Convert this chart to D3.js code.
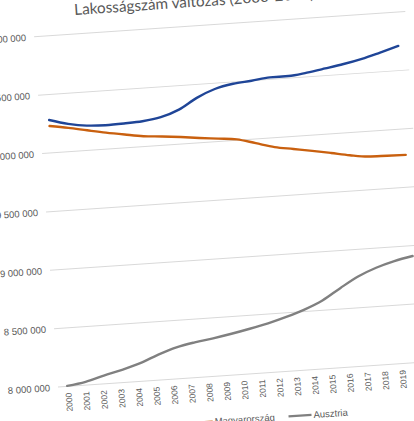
<!DOCTYPE html>
<html>
<head>
<meta charset="utf-8">
<script src="https://cdn.jsdelivr.net/npm/d3@7"></script>
<style>
html,body{margin:0;padding:0;background:#fff;overflow:hidden;}
svg{display:block;}
</style>
</head>
<body>
<svg id="chart" width="414" height="421"></svg>
<script>
const title = "Lakosságszám változás (2000-2019)";
const years = ["2000","2001","2002","2003","2004","2005","2006","2007","2008","2009",
               "2010","2011","2012","2013","2014","2015","2016","2017","2018","2019"];
const seriesNames = ["Csehország", "Magyarország", "Ausztria"];
const czech   = [10282000,10238000,10212000,10205000,10209000,10217000,10241000,10295000,10385000,10450000,
                 10484000,10499000,10517000,10518000,10536000,10561000,10588000,10622000,10665000,10710000];
const hungary = [10230000,10204000,10172000,10141000,10114000,10089000,10076000,10060000,10041000,10025000,
                 10008000,9964000,9920000,9893000,9866000,9837000,9807000,9785000,9781000,9777000];
const austria = [8004000,8028000,8071000,8109000,8155000,8218000,8269000,8301000,8325000,8353000,
                 8385000,8421000,8465000,8517000,8584000,8679000,8768000,8832000,8878000,8911000];
const yTicks = [8000000,8500000,9000000,9500000,10000000,10500000,11000000];
const colors = ["#1f4597", "#c9600f", "#808080"];

const svg = d3.select("#chart");
const g = svg.append("g").attr("transform", "rotate(-3.9,58,387)");

const plotLeft = 58, plotRight = 430, plotBottom = 387, plotTop = 36;
const x = d3.scalePoint().domain(years).range([67.3, 420.7]);
const xLabel = d3.scalePoint().domain(years).range([67.6, 402.4]);
const y = d3.scaleLinear().domain([8000000, 11000000]).range([plotBottom, plotTop]);
const fmt = d3.formatLocale({decimal: ",", thousands: " ", grouping: [3], currency: ["", ""]}).format(",");

// gridlines
g.append("g").selectAll("line").data(yTicks).join("line")
  .attr("x1", plotLeft).attr("x2", plotRight)
  .attr("y1", d => y(d)).attr("y2", d => y(d))
  .attr("stroke", "#d9d9d9").attr("stroke-width", 1);

// y axis labels
const yAxis = g.append("g").attr("transform", `translate(${plotLeft},0)`)
  .call(d3.axisLeft(y).tickValues(yTicks).tickFormat(fmt).tickSize(0).tickPadding(8));
yAxis.select(".domain").remove();
yAxis.selectAll("text").attr("fill", "#595959")
  .style("font-family", "'Liberation Sans', Arial, sans-serif").style("font-size", "9.5px");

// x axis labels
const xAxis = g.append("g").attr("transform", `translate(0,${plotBottom})`)
  .call(d3.axisBottom(xLabel).tickSize(0).tickPadding(0));
xAxis.select(".domain").remove();
xAxis.selectAll("text")
  .attr("transform", "rotate(-90)")
  .attr("x", -6.4).attr("y", 0).attr("dy", "0.35em")
  .attr("text-anchor", "end")
  .attr("fill", "#595959")
  .style("font-family", "'Liberation Sans', Arial, sans-serif").style("font-size", "8.5px");

// lines
const series = [czech, hungary, austria];
const line = d3.line().x((d, i) => x(years[i])).y(d => y(d)).curve(d3.curveMonotoneX);
g.append("g").selectAll("path").data(series).join("path")
  .attr("d", d => line(d))
  .attr("fill", "none")
  .attr("stroke", (d, i) => colors[i])
  .attr("stroke-width", 2.4)
  .attr("stroke-linejoin", "round").attr("stroke-linecap", "round");

// title
g.append("text").attr("x", 220).attr("y", 17).attr("text-anchor", "middle")
  .attr("fill", "#595959")
  .style("font-family", "Lato, 'Open Sans', sans-serif").style("font-size", "15.3px")
  .text(title);

// legend
const legendX = [94, 187, 286];
const legY = 432;
const leg = g.append("g").selectAll("g").data(seriesNames).join("g")
  .attr("transform", (d, i) => `translate(${legendX[i]},${legY})`);
leg.append("line").attr("x1", 0).attr("x2", 23).attr("y1", 0).attr("y2", 0)
  .attr("stroke", (d, i) => colors[i]).attr("stroke-width", 2.3);
leg.append("text").attr("x", 25).attr("y", 0).attr("dy", "0.35em")
  .attr("fill", "#595959")
  .style("font-family", "'Liberation Sans', Arial, sans-serif").style("font-size", "9.5px")
  .text(d => d);
</script>
</body>
</html>
